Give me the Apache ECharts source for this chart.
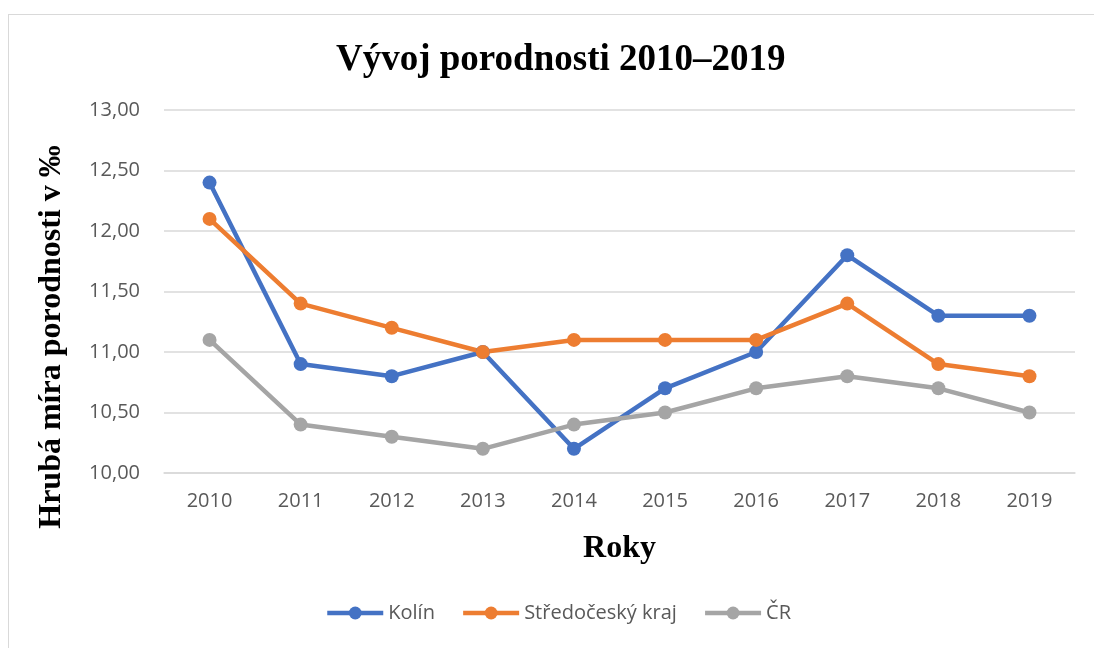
<!DOCTYPE html>
<html>
<head>
<meta charset="utf-8">
<script src="https://cdn.jsdelivr.net/npm/echarts@6/dist/echarts.min.js"></script>
<style>
  html, body { margin: 0; padding: 0; background: #fff; }
  #frame { position: absolute; left: 8px; top: 14px; width: 1200px; height: 800px; border-left: 1px solid #d9d9d9; border-top: 1px solid #d9d9d9; }
  #main { position: absolute; left: 0; top: 0; width: 1094px; height: 648px; }
</style>
</head>
<body>
<div id="frame"></div>
<div id="main"></div>
<script>
// roky a hodnoty hrubé míry porodnosti
const years = ['2010', '2011', '2012', '2013', '2014', '2015', '2016', '2017', '2018', '2019'];
const kolin = [12.4, 10.9, 10.8, 11.0, 10.2, 10.7, 11.0, 11.8, 11.3, 11.3];
const stredocesky = [12.1, 11.4, 11.2, 11.0, 11.1, 11.1, 11.1, 11.4, 10.9, 10.8];
const cr = [11.1, 10.4, 10.3, 10.2, 10.4, 10.5, 10.7, 10.8, 10.7, 10.5];

const labelFont = '"Open Sans", "Noto Sans", sans-serif';
const serif = '"Liberation Serif", "DejaVu Serif", serif';

function line(name, data, color) {
  return {
    name: name,
    type: 'line',
    data: data,
    symbol: 'circle',
    symbolSize: 14,
    lineStyle: { width: 4.5, color: color },
    itemStyle: { color: color },
    emphasis: { disabled: true }
  };
}

var myChart = echarts.init(document.getElementById('main'));
myChart.setOption({
  animation: false,
  color: ['#4472C4', '#ED7D31', '#A5A5A5'],
  title: {
    text: 'Vývoj porodnosti 2010–2019',
    left: 331,
    top: 37,
    textStyle: { fontFamily: serif, fontWeight: 'bold', fontSize: 37, color: '#000' }
  },
  legend: {
    bottom: 20,
    left: 320,
    itemWidth: 56,
    itemHeight: 16,
    itemGap: 26,
    lineStyle: { width: 4.5 },
    textStyle: { fontFamily: labelFont, fontSize: 20, color: '#595959' },
    data: ['Kolín', 'Středočeský kraj', 'ČR']
  },
  grid: { left: 164, right: 19, top: 110, bottom: 175, containLabel: false },
  // popisek osy y posunutý níž než střed grafu, jako v originálu
  graphic: [{
    type: 'text',
    x: 52,
    y: 337,
    rotation: Math.PI / 2,
    style: {
      text: 'Hrubá míra porodnosti v ‰',
      fontFamily: serif, fontWeight: 'bold', fontSize: 32, fill: '#000',
      align: 'center', verticalAlign: 'middle'
    }
  }],
  xAxis: {
    type: 'category',
    data: years,
    boundaryGap: true,
    name: 'Roky',
    nameLocation: 'middle',
    nameGap: 60,
    nameTextStyle: { fontFamily: serif, fontWeight: 'bold', fontSize: 32, color: '#000' },
    axisLine: { lineStyle: { color: '#d9d9d9', width: 1.5 } },
    axisTick: { show: false },
    axisLabel: { fontFamily: labelFont, fontSize: 20, color: '#595959', margin: 18 }
  },
  yAxis: {
    type: 'value',
    min: 10,
    max: 13,
    interval: 0.5,
    splitLine: { lineStyle: { color: '#d9d9d9', width: 1.5 } },
    axisLabel: {
      fontFamily: labelFont, fontSize: 20, color: '#595959', margin: 24,
      formatter: function (v) { return v.toFixed(2).replace('.', ','); }
    }
  },
  series: [
    line('Kolín', kolin, '#4472C4'),
    line('Středočeský kraj', stredocesky, '#ED7D31'),
    line('ČR', cr, '#A5A5A5')
  ]
});
</script>
</body>
</html>
